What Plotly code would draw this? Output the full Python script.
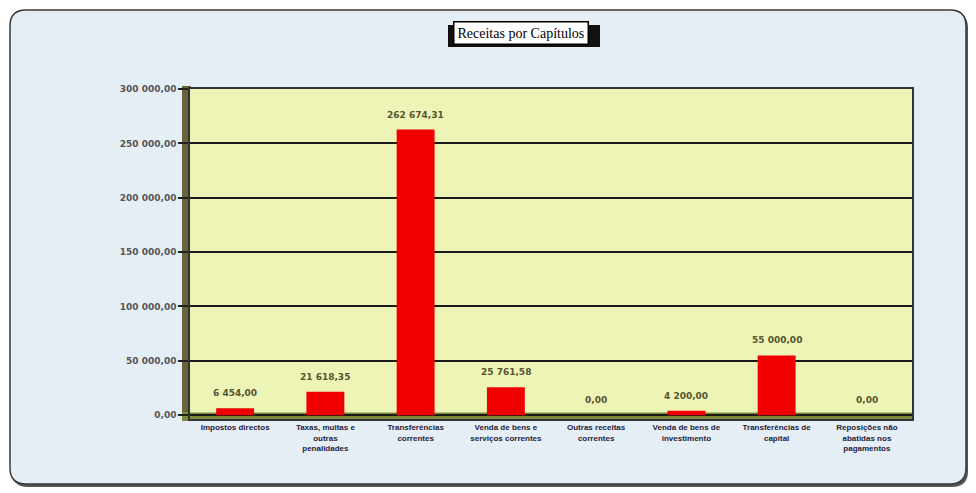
import plotly.graph_objects as go

categories = [
    "Impostos directos",
    "Taxas, multas e<br>outras<br>penalidades",
    "Transferências<br>correntes",
    "Venda de bens e<br>serviços correntes",
    "Outras receitas<br>correntes",
    "Venda de bens de<br>investimento",
    "Transferências de<br>capital",
    "Reposições não<br>abatidas nos<br>pagamentos",
]
values = [6454.00, 21618.35, 262674.31, 25761.58, 0.00, 4200.00, 55000.00, 0.00]
tick_vals = [0, 50000, 100000, 150000, 200000, 250000, 300000]
title_text = "Receitas por Capítulos"


def fmt(v):
    s = f"{v:,.2f}"
    s = s.replace(",", " ").replace(".", ",")
    return s


tick_text = ["0,00" if t == 0 else fmt(t) for t in tick_vals]
bar_text = [fmt(v) for v in values]

# page has an 8px body margin; work in page pixels and convert
OFF = 8
W, H = 976 - OFF, 493 - OFF
PL, PR, PT, PB = 190, 912, 89, 419  # plot area in page px
ML, MR, MT, MB = PL - OFF, (976 - PR), PT - OFF, (493 - PB)
PW, PH = PR - PL, PB - PT


def X(px):
    return (px - PL) / PW


def Y(py):
    return (PB - py) / PH


def rounded(x0, y0, x1, y1, r):
    pts = [
        f"M {X(x0 + r)} {Y(y0)}",
        f"L {X(x1 - r)} {Y(y0)}",
        f"Q {X(x1)} {Y(y0)} {X(x1)} {Y(y0 + r)}",
        f"L {X(x1)} {Y(y1 - r)}",
        f"Q {X(x1)} {Y(y1)} {X(x1 - r)} {Y(y1)}",
        f"L {X(x0 + r)} {Y(y1)}",
        f"Q {X(x0)} {Y(y1)} {X(x0)} {Y(y1 - r)}",
        f"L {X(x0)} {Y(y0 + r)}",
        f"Q {X(x0)} {Y(y0)} {X(x0 + r)} {Y(y0)}",
        "Z",
    ]
    return " ".join(pts)


fig = go.Figure()
fig.add_trace(go.Bar(
    x=list(range(len(categories))),
    y=values,
    marker=dict(color="#f00000", line=dict(width=0)),
    width=0.42,
))

label_font = dict(family="DejaVu Sans", size=9, color="#55552e", weight="bold")
annotations = [
    dict(x=i, y=v, xref="x", yref="y", text=t, showarrow=False,
         yanchor="middle", xanchor="center", yshift=15, font=label_font)
    for i, (v, t) in enumerate(zip(values, bar_text))
]
annotations.append(dict(
    text=title_text, xref="paper", yref="paper",
    x=X(521), y=Y(33), xanchor="center", yanchor="middle",
    showarrow=False,
    font=dict(family="Liberation Serif", size=14, color="black"),
    bgcolor="white", bordercolor="black", borderwidth=1.5, borderpad=3,
))

shapes = [
    # outer shadow
    dict(type="path", xref="paper", yref="paper", layer="below",
         path=rounded(12, 12, 968, 487, 16), fillcolor="#555555", line=dict(width=0)),
    # outer box
    dict(type="path", xref="paper", yref="paper", layer="below",
         path=rounded(10, 10, 966, 484, 16), fillcolor="#e6eef5",
         line=dict(color="#3a3a3a", width=1.5)),
    # left wall
    dict(type="rect", xref="paper", yref="paper", layer="below",
         x0=X(182), x1=X(191), y0=Y(421), y1=Y(86),
         fillcolor="#66663a", line=dict(width=0)),
    # floor
    dict(type="rect", xref="paper", yref="paper", layer="below",
         x0=X(182), x1=X(913), y0=Y(421), y1=Y(412),
         fillcolor="#7c8a3c", line=dict(width=0)),
    # title shadow
    dict(type="rect", xref="paper", yref="paper", layer="below",
         x0=X(448), x1=X(600), y0=Y(47), y1=Y(25),
         fillcolor="#111111", line=dict(width=0)),
]

fig.update_layout(
    width=W, height=H,
    margin=dict(l=ML, r=MR, t=MT, b=MB, pad=0),
    paper_bgcolor="white",
    plot_bgcolor="rgba(0,0,0,0)",
    showlegend=False,
    bargap=0.58,
    shapes=shapes,
    annotations=annotations,
    xaxis=dict(
        range=[-0.5, len(categories) - 0.5],
        tickvals=list(range(len(categories))),
        ticktext=categories,
        tickfont=dict(family="Liberation Sans", size=8, color="#22223a", weight="bold"),
        ticks="", showgrid=False, zeroline=False,
        showline=True, mirror=True, linecolor="#333333", linewidth=1.5,
    ),
    yaxis=dict(
        range=[-3500, 300000],
        tickvals=tick_vals,
        ticktext=tick_text,
        tickfont=dict(family="DejaVu Sans", size=9, color="#555555", weight="bold"),
        ticks="outside", ticklen=10, tickcolor="#222222", tickwidth=2,
        showgrid=True, gridcolor="#1a1a1a", gridwidth=2,
        zeroline=False,
        showline=True, mirror=True, linecolor="#333333", linewidth=1.5,
    ),
)

# plot-area background and floor strip
fig.add_shape(type="rect", xref="x", yref="y", layer="below",
              x0=-0.5, x1=len(categories) - 0.5, y0=-3500, y1=300000,
              fillcolor="#edf4b6", line=dict(width=0))
fig.add_shape(type="rect", xref="x", yref="y", layer="below",
              x0=-0.5, x1=len(categories) - 0.5, y0=-3500, y1=2500,
              fillcolor="#7c8a3c", line=dict(width=0))

fig.write_html("out.html")
